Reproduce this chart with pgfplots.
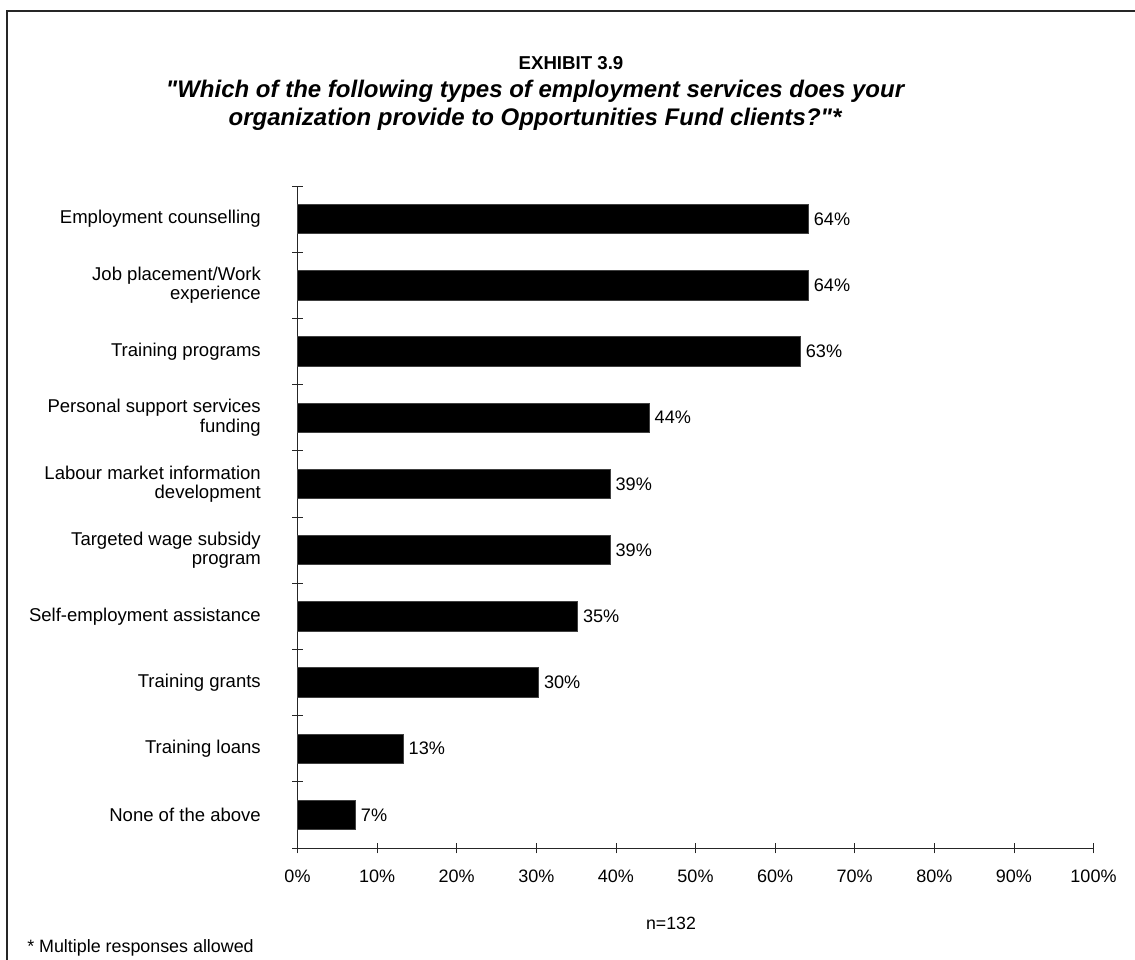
\documentclass[border=0pt]{standalone}
\usepackage{fontspec}
\setmainfont{Liberation Sans}[Ligatures=TeXOff]
\usepackage{pgfplots}
\pgfplotsset{compat=1.18}
\begin{document}
\begin{tikzpicture}
\begin{scope}[x=0.75pt,y=0.75pt]
\path[use as bounding box] (0,0) rectangle (1135,960);
\draw[line width=0.8pt, black!85] (1135,949) -- (7,949) -- (7,0);
\node[font=\bfseries\fontsize{14}{17}\selectfont] at (571,897) {EXHIBIT 3.9};
\node[font=\bfseries\itshape\fontsize{18}{21}\selectfont, align=center] at (535,855) {"Which of the following types of employment services does your\\organization provide to Opportunities Fund clients?"*};
\node[font=\fontsize{13.3}{16}\selectfont] at (671,37) {n=132};
\node[font=\fontsize{13.4}{16}\selectfont, anchor=west, inner sep=0pt] at (27,12) {* Multiple responses allowed};
\end{scope}
\begin{axis}[
  at={(223.125pt,84pt)}, anchor=south west,
  scale only axis, width=597pt, height=496.5pt,
  xbar, bar width=22pt,
  xmin=0, xmax=100, ymin=0.5, ymax=10.5,
  axis x line*=bottom, axis y line*=left,
  axis line style={black!85, line width=0.6pt},
  tick align=center, major tick length=8pt,
  tick style={black!85, line width=0.6pt},
  xtick={0,10,...,100},
  xticklabels={0\%,10\%,20\%,30\%,40\%,50\%,60\%,70\%,80\%,90\%,100\%},
  xticklabel style={font=\fontsize{13.5}{16}\selectfont, yshift=-9pt},
  ytick={0.5,1.5,...,10.5},
  yticklabels={},
  extra y ticks={1,2,...,10},
  extra y tick labels={None of the above,Training loans,Training grants,Self-employment assistance,Targeted wage subsidy\\program,Labour market information\\development,Personal support services\\funding,Training programs,Job placement/Work\\experience,Employment counselling},
  extra y tick style={major tick length=0pt, yticklabel style={align=right, font=\fontsize{13.9}{14.5}\selectfont, xshift=-24pt}},
  point meta=x,
  nodes near coords={\pgfmathprintnumber[fixed,precision=0]{\pgfplotspointmeta}\%},
  nodes near coords align={horizontal},
  every node near coord/.append style={font=\fontsize{13.6}{16}\selectfont, anchor=west, inner sep=0pt, xshift=3.75pt, /pgf/number format/assume math mode=true},
  clip=false,
]
\addplot[fill=black, draw=black!75, line width=0.5pt] coordinates {(64.2,10) (64.2,9) (63.2,8) (44.2,7) (39.3,6) (39.3,5) (35.2,4) (30.3,3) (13.3,2) (7.3,1)};
\end{axis}
\end{tikzpicture}
\end{document}
